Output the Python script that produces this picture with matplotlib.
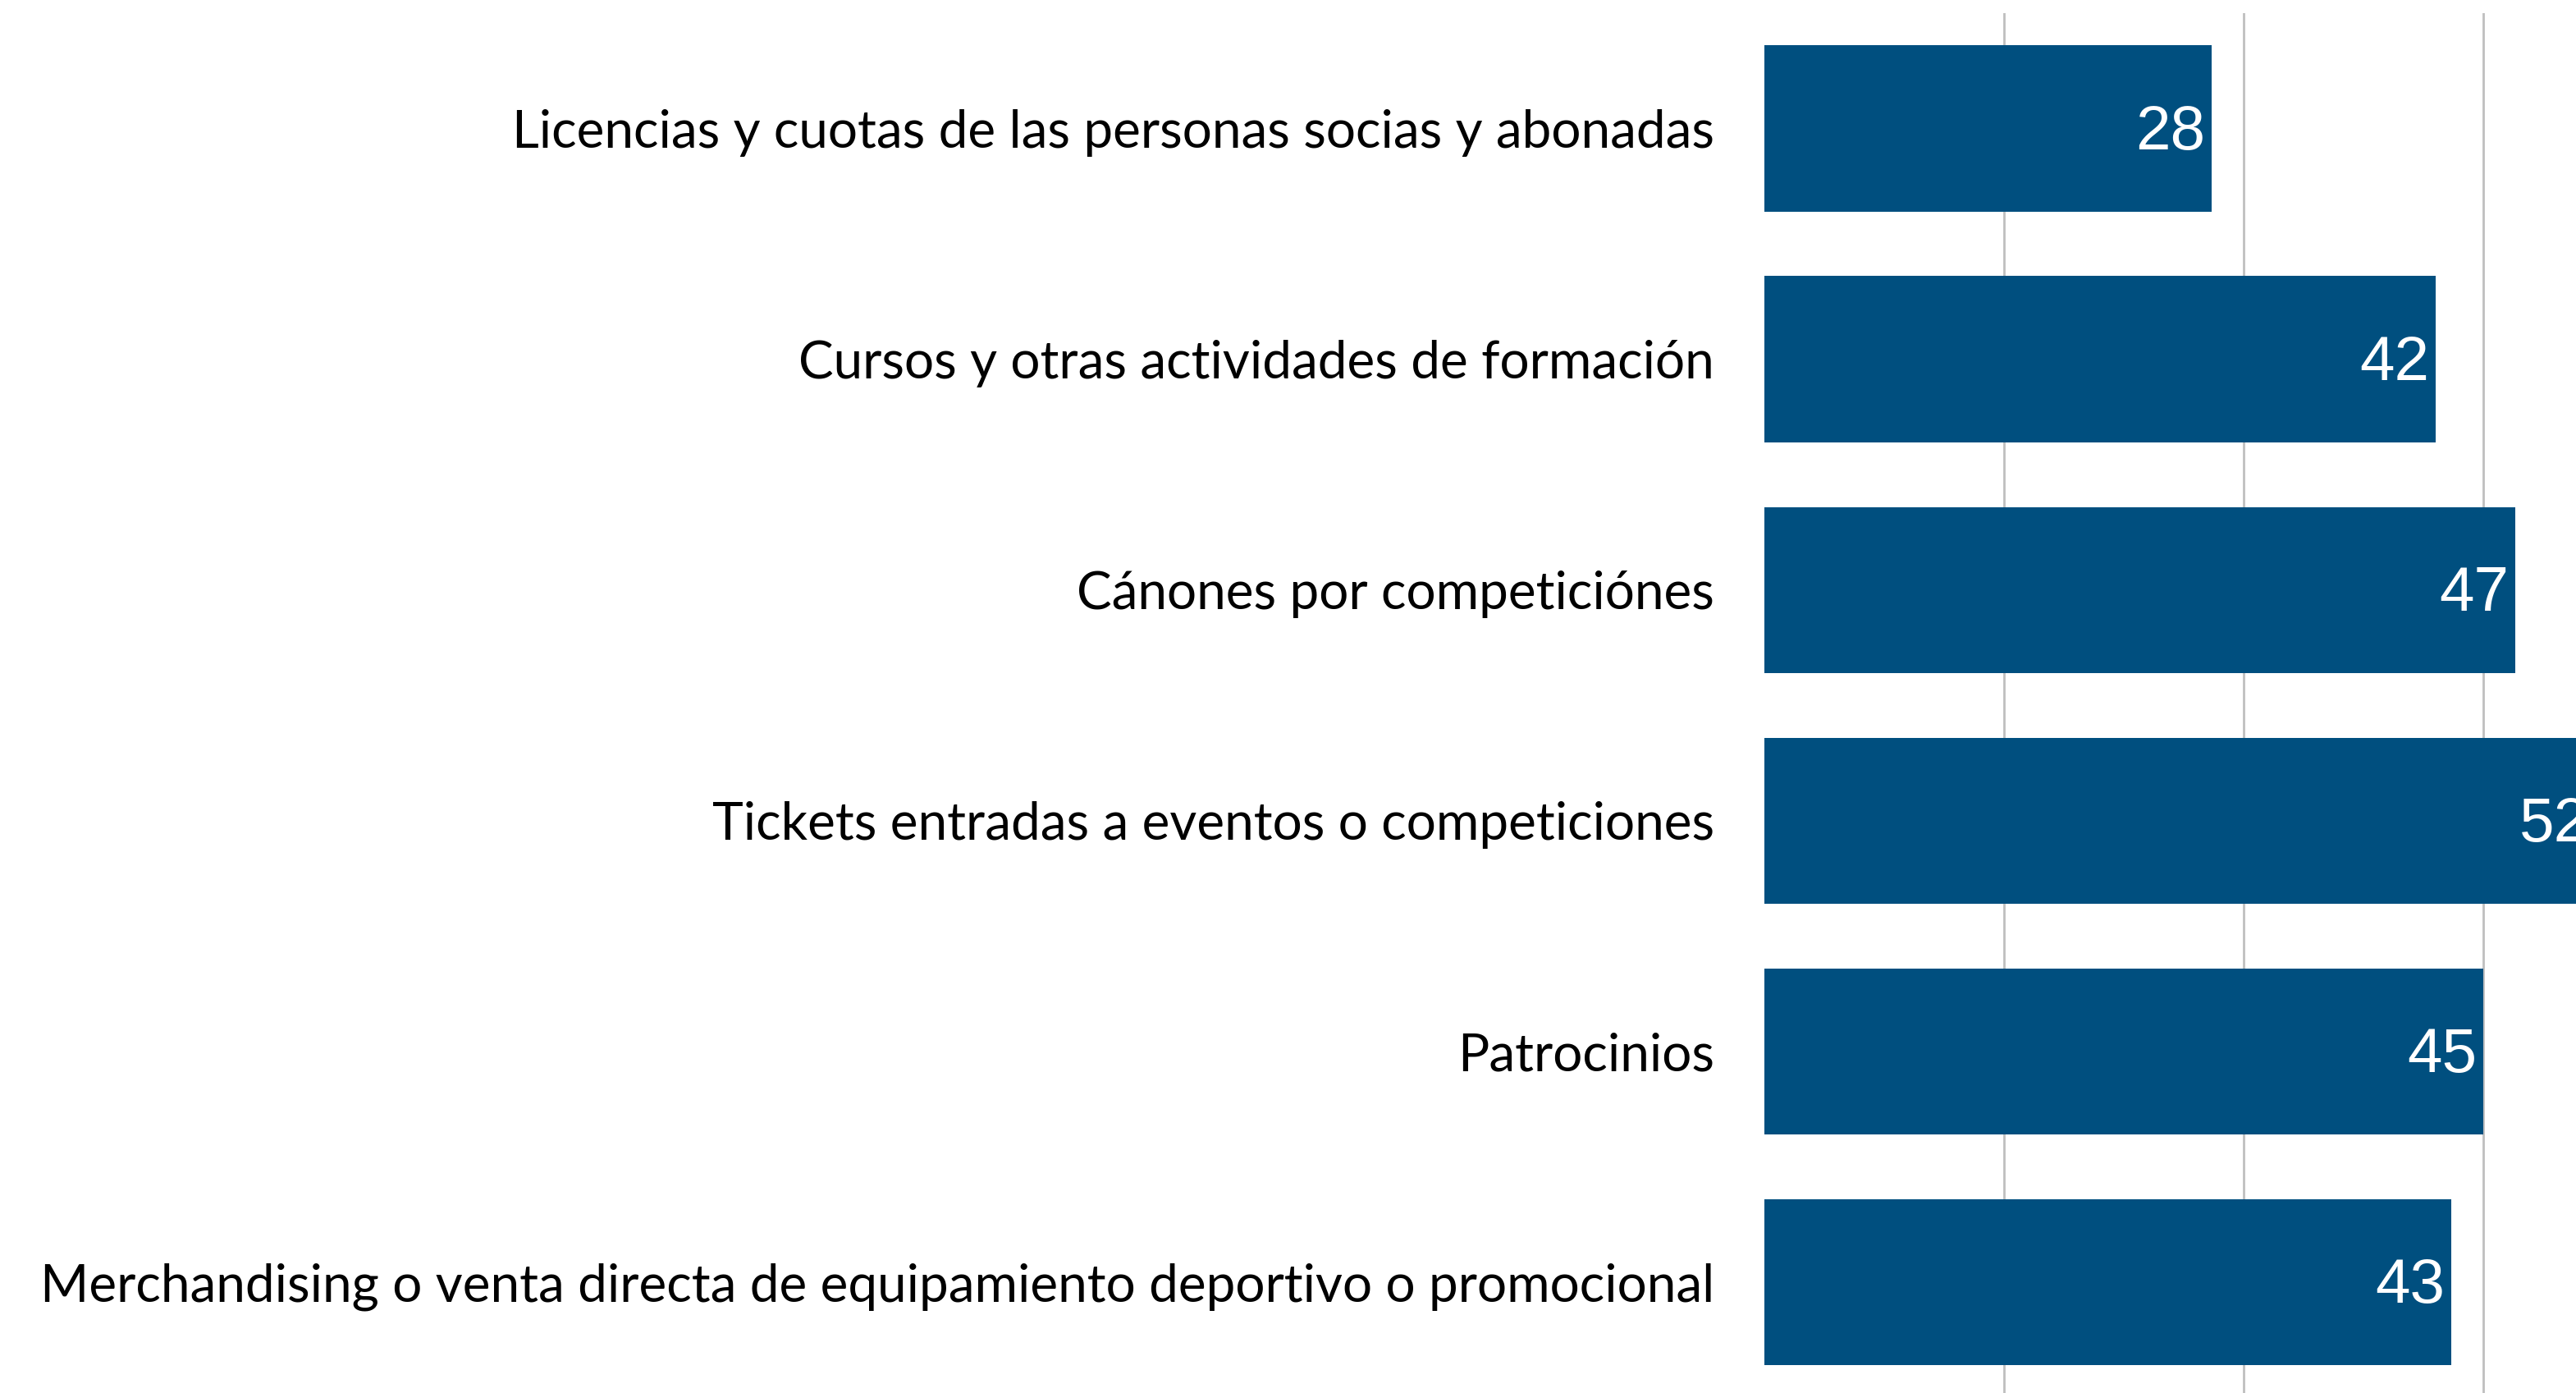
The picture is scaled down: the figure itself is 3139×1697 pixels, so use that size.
import matplotlib
matplotlib.use("Agg")
import matplotlib.pyplot as plt

categories = [
    "Licencias y cuotas de las personas socias y abonadas",
    "Cursos y otras actividades de formación",
    "Cánones por competiciónes",
    "Tickets entradas a eventos o competiciones",
    "Patrocinios",
    "Merchandising o venta directa de equipamiento deportivo o promocional",
]
values = [28, 42, 47, 52, 45, 43]
grid_ticks = [15, 30, 45]

bar_color = "#004F7F"

fig = plt.figure(figsize=(31.39, 16.97), dpi=100)
ax = fig.add_axes([0.685, 0.0, 0.315, 0.9906])

y = list(range(len(categories)))
ax.barh(y, values, height=0.72, color=bar_color, zorder=2)

# value labels sit inside the bar end; the 52 is cut by the edge like the original
for yi, v in zip(y, values):
    ax.text(v - 0.4, yi + 0.02, str(v), ha="right", va="center", color="white",
            fontsize=55, family="Liberation Sans", zorder=3, clip_on=True)

ax.set_xlim(0, 50.8)
ax.set_ylim(5.48, -0.5)
ax.set_xticks(grid_ticks)
ax.xaxis.grid(True, color="#BFBFBF", linewidth=2)
ax.set_axisbelow(True)
ax.tick_params(axis="x", length=0, labelbottom=False)
ax.set_yticks(y)
ax.set_yticklabels(categories, fontsize=46, family="Lato")
ax.tick_params(axis="y", length=0, pad=44)
for s in ax.spines.values():
    s.set_visible(False)

fig.savefig("out.png", dpi=100)
